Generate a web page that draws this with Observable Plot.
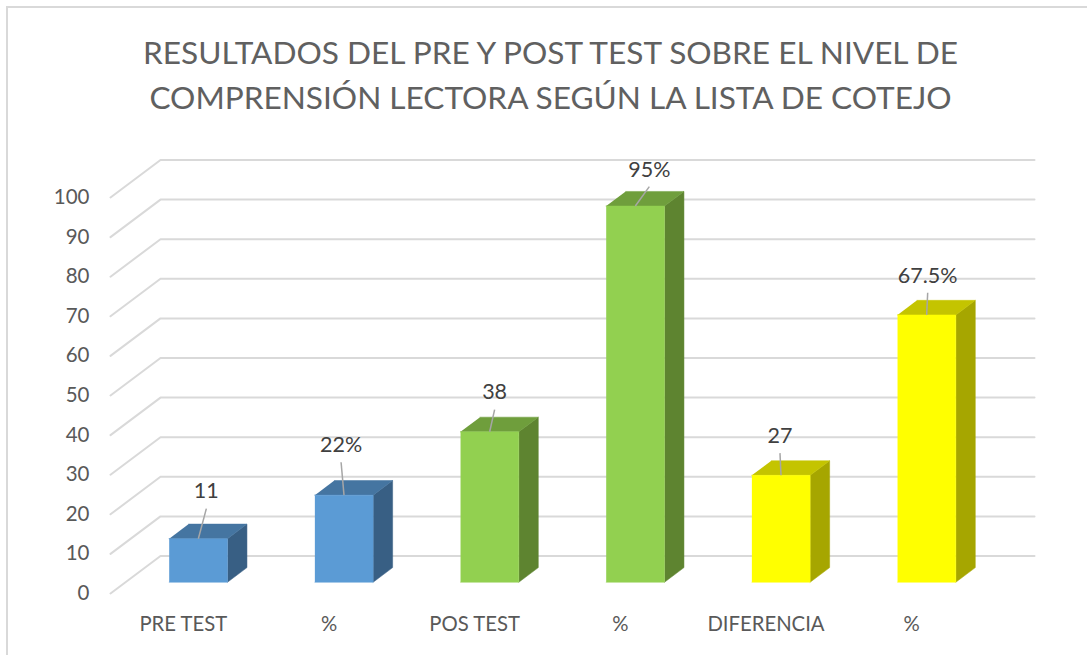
<!DOCTYPE html>
<html>
<head>
<meta charset="utf-8">
<script src="https://cdn.jsdelivr.net/npm/d3@7"></script>
<script src="https://cdn.jsdelivr.net/npm/@observablehq/plot@0.6"></script>
<style>
  html, body { margin: 0; padding: 0; background: #fff; }
  #chart { position: relative; width: 1087px; height: 655px; overflow: hidden; font-family: Lato, sans-serif; }
  #edge { position: absolute; left: 6px; top: 6px; width: 1081px; height: 649px; border-left: 2px solid #d9d9d9; border-top: 2px solid #d9d9d9; box-sizing: border-box; }
  #title { position: relative; margin: 0; padding-top: 30px; height: 110px; width: 1101px; text-align: center; font-weight: 400; font-size: 31.6px; line-height: 45px; color: #606060; }
  svg { display: block; position: relative; }
</style>
</head>
<body>
<div id="chart">
  <div id="edge"></div>
  <h1 id="title">RESULTADOS DEL PRE Y POST TEST SOBRE EL NIVEL DE<br>COMPRENSIÓN LECTORA SEGÚN LA LISTA DE COTEJO</h1>
</div>
<script>
const categories = ["PRE TEST", "%", "POS TEST", "%", "DIFERENCIA", "%"];
const values = [11, 22, 38, 95, 27, 67.5];
const valueLabels = ["11", "22%", "38", "95%", "27", "67.5%"];
const yTicks = [0, 10, 20, 30, 40, 50, 60, 70, 80, 90, 100];
const frontColors = ["#5b9bd5", "#5b9bd5", "#92d050", "#92d050", "#ffff00", "#ffff00"];
const topColors = ["#4575a1", "#4575a1", "#6f9e3c", "#6f9e3c", "#c4c400", "#c4c400"];
const sideColors = ["#385f84", "#385f84", "#5e8430", "#5e8430", "#a6a600", "#a6a600"];
// leader line end relative to the bar's top centre: [slots, value units]
const leaderShift = [[0.055, 7.6], [-0.02, 8.3], [0.034, 5.6], [0.096, 4.9], [-0.007, 5.6], [0.007, 5.6]];

// Oblique projection of the 3-D chart: u = category slot, v = value, d = depth 0..1
const skewX = 0.3432, skewY = 9.47;
const px = (u, d) => u + d * skewX;
const py = (v, d) => v + d * skewY;
const barHalf = 0.2, dFront = 0.3, dBack = 0.69;

const grid = yTicks.flatMap(t => [
  {t, x: px(0, 0), y: py(t, 0)},
  {t, x: px(0, 1), y: py(t, 1)},
  {t, x: px(6, 1), y: py(t, 1)}
]);

const faces = {front: [], top: [], side: []};
values.forEach((v, i) => {
  const l = i + 0.5 - barHalf, r = i + 0.5 + barHalf;
  const add = (arr, fill, pts) => pts.forEach(([u, w, d]) => arr.push({id: i, fill, x: px(u, d), y: py(w, d)}));
  add(faces.side, sideColors[i], [[r, 0, dFront], [r, 0, dBack], [r, v, dBack], [r, v, dFront]]);
  add(faces.top, topColors[i], [[l, v, dFront], [r, v, dFront], [r, v, dBack], [l, v, dBack]]);
  add(faces.front, frontColors[i], [[l, 0, dFront], [r, 0, dFront], [r, v, dFront], [l, v, dFront]]);
});

const leaders = values.map((v, i) => ({
  x1: px(i + 0.5, dFront), y1: py(v, dFront),
  x2: px(i + 0.5, dFront) + leaderShift[i][0], y2: py(v, dFront) + leaderShift[i][1],
  label: valueLabels[i]
}));

const face = arr => Plot.line(arr, {x: "x", y: "y", z: "id", fill: "fill", stroke: "fill", strokeWidth: 0.5, curve: "linear"});

const plot = Plot.plot({
  width: 1087, height: 515,
  marginLeft: 110, marginRight: 53, marginTop: 17.4, marginBottom: 62,
  x: {domain: [0, 6 + skewX]},
  y: {domain: [0, 110]},
  color: {type: "identity"},
  style: {background: "transparent", fontFamily: "Lato, sans-serif"},
  marks: [
    Plot.line(grid, {x: "x", y: "y", z: "t", stroke: "#d9d9d9", strokeWidth: 2, curve: "linear"}),
    face(faces.side), face(faces.top), face(faces.front),
    Plot.link(leaders, {x1: "x1", y1: "y1", x2: "x2", y2: "y2", stroke: "#a6a6a6", strokeWidth: 1.5}),
    Plot.text(leaders, {x: "x2", y: "y2", text: "label", dy: -17, fontSize: 21.5, fill: "#404040"}),
    Plot.axisY({ticks: yTicks, tickSize: 0, tickPadding: 21, label: null, fontSize: 20.5, fill: "#595959"}),
    Plot.axisX({ticks: categories.map((_, i) => i + 0.5), tickFormat: u => categories[Math.floor(u)], tickSize: 0, tickPadding: 23, label: null, fontSize: 20.3, fill: "#595959"})
  ]
});
document.getElementById("chart").appendChild(plot);
</script>
</body>
</html>
